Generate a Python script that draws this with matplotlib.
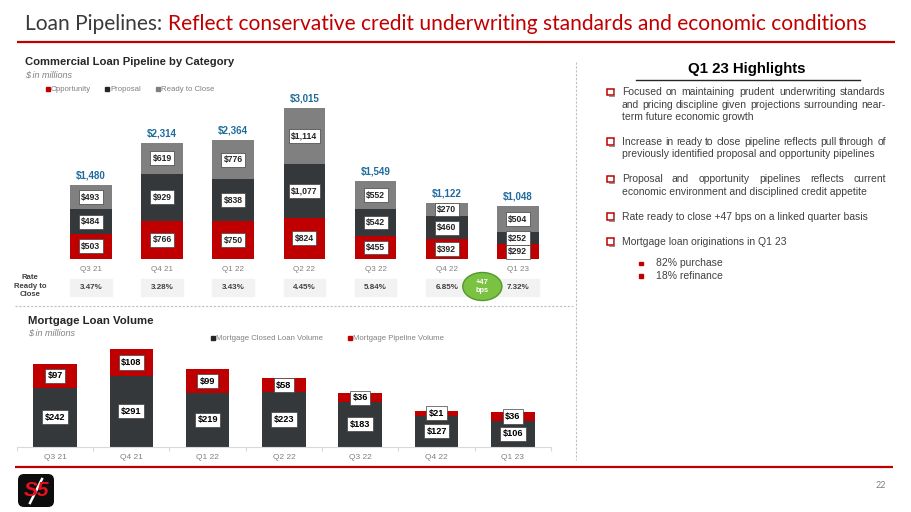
import matplotlib
matplotlib.use("Agg")
import matplotlib.pyplot as plt
import numpy as np
from matplotlib.patches import Rectangle, Ellipse, FancyBboxPatch, Polygon
from matplotlib.transforms import blended_transform_factory

# ---------------- data ----------------
cats = ['Q3 21', 'Q4 21', 'Q1 22', 'Q2 22', 'Q3 22', 'Q4 22', 'Q1 23']
opportunity = [503, 766, 750, 824, 455, 392, 292]
proposal = [484, 929, 838, 1077, 542, 460, 252]
ready = [493, 619, 776, 1114, 552, 270, 504]
totals = [1480, 2314, 2364, 3015, 1549, 1122, 1048]
rate_ready = ['3.47%', '3.28%', '3.43%', '4.45%', '5.84%', '6.85%', '7.32%']
rate_change = '+47\nbps'
closed = [242, 291, 219, 223, 183, 127, 106]
pipeline = [97, 108, 99, 58, 36, 21, 36]

RED = '#C00000'
DARK = '#35383A'
GRAY = '#808080'
TXT = '#404040'
BLUE = '#1F6B9C'
SANS = 'Liberation Sans'

W, H = 911, 512
fig = plt.figure(figsize=(W / 100, H / 100), dpi=100)
fig.patch.set_facecolor('white')
ov = fig.add_axes([0, 0, 1, 1])
ov.set_xlim(0, W)
ov.set_ylim(H, 0)
ov.axis('off')
R = fig.canvas.get_renderer()


def pax(l, t, r, b):
    return fig.add_axes([l / W, 1 - b / H, (r - l) / W, (b - t) / H])


def wid(t):
    return t.get_window_extent(R).width


def fit(t, target):
    t.set_fontsize(t.get_fontsize() * target / wid(t))
    return t


# ---------------- title ----------------
t1 = ov.text(25, 30, 'Loan Pipelines: ', fontsize=15, family='Lato', color='#3A3A3A', va='baseline')
t2 = ov.text(25, 30, 'Reflect conservative credit underwriting standards and economic conditions',
             fontsize=15, family='Lato', color=RED, va='baseline')
tot = wid(t1) + wid(t2)
s = 15 * 845 / tot
t1.set_fontsize(s)
t2.set_fontsize(s)
t2.set_x(25 + wid(t1))
ov.plot([17, 895], [41.7, 41.7], color=RED, lw=1.6, solid_capstyle='butt')

# ---------------- commercial chart ----------------
fit(ov.text(25, 62, 'Commercial Loan Pipeline by Category', family=SANS, weight='bold',
            fontsize=8, color='#262626', va='center'), 210)
ov.text(25, 74.5, '$ in millions', family=SANS, style='italic', fontsize=6.5, color=GRAY, va='center')

leg_items = [('Opportunity', RED, 45.7), ('Proposal', '#262626', 105), ('Ready to Close', GRAY, 155.7)]
for lab, col, x in leg_items:
    ov.add_patch(Rectangle((x, 86.8), 4.4, 4.4, color=col))
    ov.text(x + 5, 89.2, lab, family=SANS, fontsize=5.6, color=GRAY, va='center')

SCALE_T = 0.0502
top = pax(55.4, 95, 553.5, 259)
top.set_xlim(-0.5, 6.5)
top.set_ylim(0, (259 - 95) / SCALE_T)
x = np.arange(len(cats))
bw = 0.586
top.bar(x, opportunity, bw, color=RED)
top.bar(x, proposal, bw, bottom=opportunity, color=DARK)
bottom3 = np.array(opportunity) + np.array(proposal)
top.bar(x, ready, bw, bottom=bottom3, color=GRAY)
box = dict(boxstyle='square,pad=0.28', fc='white', ec='#404040', lw=0.5)
for i in range(len(cats)):
    segs = [(0, opportunity[i]), (opportunity[i], proposal[i]), (bottom3[i], ready[i])]
    for b0, v in segs:
        top.text(i, b0 + v / 2, f'${v:,}', ha='center', va='center', family=SANS, weight='bold',
                 fontsize=6.2, color='#262626', bbox=box)
    top.annotate(f'${totals[i]:,}', xy=(i, totals[i]), xytext=(0, 6.8), textcoords='offset points',
                 ha='center', va='center', family=SANS, weight='bold', fontsize=7.0, color=BLUE)
top.set_xticks(x, cats)
top.tick_params(axis='x', length=0, pad=5, labelsize=5.8, labelcolor=GRAY)
for lab in top.get_xticklabels():
    lab.set_family(SANS)
top.set_yticks([])
for sp in top.spines.values():
    sp.set_visible(False)
top.patch.set_alpha(0)

# rate ready to close row
bt = blended_transform_factory(top.transData, ov.transData)
for i, r in enumerate(rate_ready):
    top.add_patch(Rectangle((i - bw / 2, 279), bw, 16.5, transform=bt, color='#F2F2F2', clip_on=False))
    top.text(i, 287.3, r, transform=bt, ha='center', va='center', family=SANS, weight='bold',
             fontsize=5.8, color=TXT)
top.add_patch(Ellipse((5.5, 286.5), 0.55, 28, transform=bt, fc='#7CC242', ec='#4F9A2C', lw=1.0,
                      clip_on=False, zorder=5))
top.text(5.5, 286.5, rate_change, transform=bt, ha='center', va='center', family=SANS, weight='bold',
         fontsize=5.4, color='white', linespacing=1.3, zorder=6)
ov.text(30, 286, 'Rate\nReady to\nClose', ha='center', va='center', family=SANS, weight='bold',
        fontsize=5.6, color=TXT, linespacing=1.35)

# separators
ov.plot([15, 573], [306, 306], color='#BFBFBF', lw=0.8, ls=(0, (2, 1.5)))
ov.plot([576, 576], [62, 460], color='#BFBFBF', lw=0.8, ls=(0, (2, 1.5)))

# ---------------- mortgage chart ----------------
fit(ov.text(28, 320.7, 'Mortgage Loan Volume', family=SANS, weight='bold', fontsize=8,
            color='#262626', va='center'), 125)
ov.text(28, 333.5, '$ in millions', family=SANS, style='italic', fontsize=6.5, color=GRAY, va='center')
for lab, col, xx in [('Mortgage Closed Loan Volume', '#262626', 210.7), ('Mortgage Pipeline Volume', RED, 348)]:
    ov.add_patch(Rectangle((xx, 335.8), 4.4, 4.4, color=col))
    ov.text(xx + 5, 338.2, lab, family=SANS, fontsize=5.6, color=GRAY, va='center')

SCALE_B = 0.244
bot = pax(16.85, 340, 551, 446.7)
bot.set_xlim(-0.5, 6.5)
bot.set_ylim(0, (446.7 - 340) / SCALE_B)
bw2 = 0.57
bot.bar(x, closed, bw2, color=DARK)
bot.bar(x, pipeline, bw2, bottom=closed, color=RED)
for i in range(len(cats)):
    bot.text(i, closed[i] / 2, f'${closed[i]}', ha='center', va='center', family=SANS, weight='bold',
             fontsize=6.6, color='black', bbox=box)
    bot.text(i, closed[i] + pipeline[i] / 2, f'${pipeline[i]}', ha='center', va='center', family=SANS,
             weight='bold', fontsize=6.6, color='black', bbox=box)
bot.set_xticks(x, cats)
bot.set_xticks(np.arange(-0.5, 7, 1), minor=True)
bot.tick_params(axis='x', which='major', length=0, pad=5.5, labelsize=6.0, labelcolor=GRAY)
bot.tick_params(axis='x', which='minor', length=3, color='#D9D9D9', width=0.8)
for lab in bot.get_xticklabels():
    lab.set_family(SANS)
bot.set_yticks([])
for k, sp in bot.spines.items():
    sp.set_visible(k == 'bottom')
bot.spines['bottom'].set_color('#D9D9D9')
bot.spines['bottom'].set_linewidth(0.8)
bot.patch.set_alpha(0)

# ---------------- right panel ----------------
fit(ov.text(746.7, 68.5, 'Q1 23 Highlights', family=SANS, weight='bold', fontsize=10,
            color='black', ha='center', va='center'), 118.3)
ov.plot([636, 860], [80, 80], color='#262626', lw=1.0)

ref = ov.text(621.7, 216.7, 'Rate ready to close +47 bps on a linked quarter basis', family=SANS,
              fontsize=8, color=TXT, va='center')
fit(ref, 246.7)
FS = ref.get_fontsize()
X0, X1 = 621.7, 885.7


def line(txt, y, justify=False, x0=X0):
    if not justify:
        ov.text(x0, y, txt, family=SANS, fontsize=FS, color=TXT, va='center')
        return
    words = txt.split()
    objs = [ov.text(0, y, w, family=SANS, fontsize=FS, color=TXT, va='center') for w in words]
    ws = [wid(o) for o in objs]
    gap = (X1 - x0 - sum(ws)) / (len(words) - 1)
    xx = x0
    for o, w_ in zip(objs, ws):
        o.set_x(xx)
        xx += w_ + gap


def bullet(y):
    ov.add_patch(Rectangle((607.3, y - 3.3), 6.2, 6.2, fc='white', ec=RED, lw=1.1))
    ov.plot([609, 614.2, 614.2], [y + 3.8, y + 3.8, y - 1.6], color='#7F7F7F', lw=0.6)


bullet(92.3)
line('Focused on maintaining prudent underwriting standards', 92.3, True)
line('and pricing discipline given projections surrounding near-', 104.5, True)
line('term future economic growth', 116.7)
bullet(141.7)
line('Increase in ready to close pipeline reflects pull through of', 141.7, True)
line('previously identified proposal and opportunity pipelines', 154)
bullet(179.3)
line('Proposal and opportunity pipelines reflects current', 179.3, True)
line('economic environment and disciplined credit appetite', 191.7)
bullet(216.7)
bullet(241.7)
line('Mortgage loan originations in Q1 23', 241.7)
for yy, txt in [(263.3, '82% purchase'), (276, '18% refinance')]:
    ov.add_patch(Rectangle((639.3, yy - 1.8), 3.4, 3.4, color=RED))
    line(txt, yy, x0=656)

# ---------------- footer ----------------
ov.plot([15, 893], [466.7, 466.7], color=RED, lw=1.6, solid_capstyle='butt')
ov.text(881, 486, '22', family='Lato', fontsize=6.5, color=GRAY, ha='center', va='center')
ov.add_patch(FancyBboxPatch((18, 474), 36, 33, boxstyle='round,pad=0,rounding_size=6', fc='#0D0D0D', ec='none'))
ov.text(36, 491, 'S5', family=SANS, weight='bold', style='italic', fontsize=15, color='#E8101F',
        ha='center', va='center')
ov.plot([30, 42], [503, 479], color='white', lw=1.8)

fig.savefig('out.png', dpi=100, facecolor='white')
